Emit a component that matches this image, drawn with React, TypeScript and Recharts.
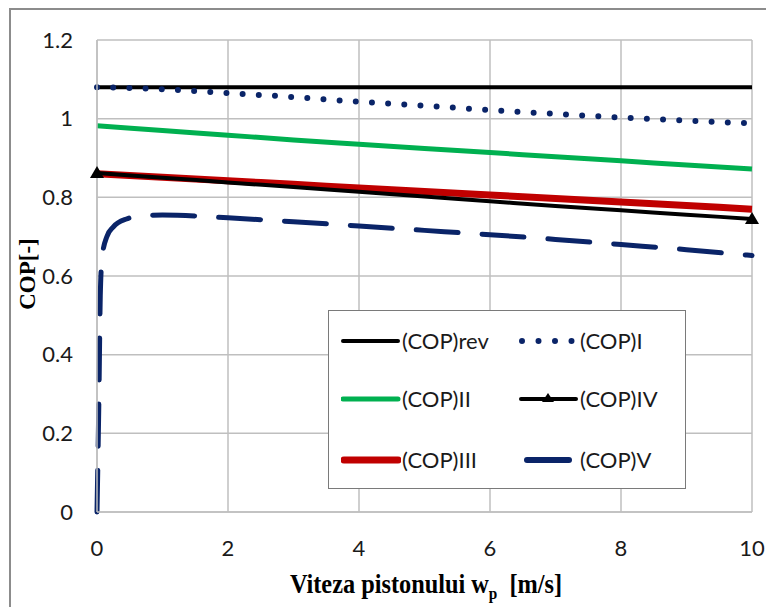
import React from 'react';
import { LineChart, Line, XAxis, YAxis, CartesianGrid } from 'recharts';

// piston speed (m/s) for the smooth series
const wp = [0, 1, 2, 3, 4, 5, 6, 7, 8, 9, 10];
const copRev = [1.08, 1.08, 1.08, 1.08, 1.08, 1.08, 1.08, 1.08, 1.08, 1.08, 1.08];
const copI = [1.08, 1.075, 1.065, 1.055, 1.043, 1.033, 1.022, 1.012, 1.003, 0.995, 0.988];
const copII = [0.982, 0.97, 0.958, 0.946, 0.935, 0.924, 0.914, 0.903, 0.893, 0.882, 0.872];
const copIII = [0.86, 0.851, 0.842, 0.833, 0.824, 0.815, 0.806, 0.797, 0.788, 0.779, 0.77];
const copIV = [0.862, 0.85, 0.838, 0.826, 0.814, 0.802, 0.79, 0.778, 0.767, 0.756, 0.745];

// (COP)V rises steeply near zero speed
const wpV = [0, 0.03, 0.05, 0.08, 0.15, 0.25, 0.45, 0.7, 1, 2, 3, 4, 5, 6, 7, 8, 9, 10];
const copV = [0, 0.3, 0.55, 0.65, 0.7, 0.725, 0.745, 0.753, 0.755, 0.748, 0.738, 0.727, 0.716, 0.705, 0.693, 0.68, 0.667, 0.652];

const xTicks = [0, 2, 4, 6, 8, 10];
const yTicks = [0, 0.2, 0.4, 0.6, 0.8, 1, 1.2];

const NAVY = '#0a2468';
const GREEN = '#00b050';
const RED = '#c00000';
const GRID = '#bfbfbf';

const toPoints = (xs: number[], ys: number[]) => xs.map((x, i) => ({ x, y: ys[i] }));

const tickStyle = { fontFamily: 'Lato, sans-serif', fontSize: 22, fill: '#1a1a1a' };

const triangleDot = (last: number) => (props: any) => {
  const { cx, cy, index } = props;
  if (index !== 0 && index !== last) return <g key={`t${index}`} />;
  return (
    <polygon
      key={`t${index}`}
      points={`${cx},${cy - 7} ${cx - 7},${cy + 5} ${cx + 7},${cy + 5}`}
      fill="#000"
    />
  );
};

const Swatch = ({ kind }: { kind: string }) => (
  <svg width={60} height={14} style={{ display: 'block' }}>
    {kind === 'rev' && <line x1={2} y1={7} x2={57} y2={7} stroke="#000" strokeWidth={4} strokeLinecap="round" />}
    {kind === 'I' && (
      <line x1={3} y1={7} x2={57} y2={7} stroke={NAVY} strokeWidth={6} strokeLinecap="round" strokeDasharray="0 16.5" />
    )}
    {kind === 'II' && <line x1={2} y1={7} x2={57} y2={7} stroke={GREEN} strokeWidth={5} strokeLinecap="round" />}
    {kind === 'III' && <line x1={3} y1={7} x2={57} y2={7} stroke={RED} strokeWidth={7} strokeLinecap="round" />}
    {kind === 'IV' && (
      <g>
        <line x1={2} y1={7} x2={57} y2={7} stroke="#000" strokeWidth={4} strokeLinecap="round" />
        <polygon points="29,1 23,10 35,10" fill="#000" />
      </g>
    )}
    {kind === 'V' && <line x1={8} y1={7} x2={50} y2={7} stroke={NAVY} strokeWidth={6} strokeLinecap="round" />}
  </svg>
);

const legendRows = [
  ['rev', 'I'],
  ['II', 'IV'],
  ['III', 'V'],
];
const rowCenters = [30, 88, 149];

export default function App() {
  return (
    <div style={{ position: 'relative', width: 766, height: 599, overflow: 'hidden', background: '#fff' }}>
      <div
        style={{
          position: 'absolute',
          left: 1,
          top: 0,
          width: 900,
          height: 900,
          border: '2px solid #8c8c8c',
          boxSizing: 'border-box',
        }}
      />
      <LineChart width={766} height={599} margin={{ top: 32, right: 22, bottom: 65, left: 29 }}>
        <CartesianGrid stroke={GRID} strokeWidth={1.5} />
        <XAxis
          type="number"
          dataKey="x"
          domain={[0, 10]}
          ticks={xTicks}
          allowDuplicatedCategory={false}
          stroke={GRID}
          strokeWidth={1.5}
          tickLine={false}
          tickSize={0}
          tickMargin={28}
          height={30}
          tick={tickStyle}
        />
        <YAxis
          type="number"
          domain={[0, 1.2]}
          ticks={yTicks}
          stroke={GRID}
          strokeWidth={1.5}
          tickLine={false}
          tickSize={0}
          tickMargin={24}
          width={60}
          tick={tickStyle}
        />
        <Line data={toPoints(wp, copRev)} dataKey="y" type="linear" stroke="#000" strokeWidth={4} dot={false} isAnimationActive={false} />
        <Line
          data={toPoints(wp, copI)}
          dataKey="y"
          type="monotone"
          stroke={NAVY}
          strokeWidth={6}
          strokeLinecap="round"
          strokeDasharray="0 16.2"
          dot={false}
          isAnimationActive={false}
        />
        <Line data={toPoints(wp, copII)} dataKey="y" type="monotone" stroke={GREEN} strokeWidth={5} dot={false} isAnimationActive={false} />
        <Line data={toPoints(wp, copIII)} dataKey="y" type="monotone" stroke={RED} strokeWidth={7} dot={false} isAnimationActive={false} />
        <Line
          data={toPoints(wp, copIV)}
          dataKey="y"
          type="monotone"
          stroke="#000"
          strokeWidth={4}
          dot={triangleDot(copIV.length - 1)}
          isAnimationActive={false}
        />
        <Line
          data={toPoints(wpV, copV)}
          dataKey="y"
          type="monotone"
          stroke={NAVY}
          strokeWidth={5}
          strokeLinecap="round"
          strokeDasharray="42 24"
          dot={false}
          isAnimationActive={false}
        />
      </LineChart>

      {/* legend box */}
      <div
        style={{
          position: 'absolute',
          left: 320,
          top: 302,
          width: 358,
          height: 179,
          border: '1.5px solid #7a7a7a',
          background: '#fff',
          boxSizing: 'border-box',
          fontFamily: 'Lato, sans-serif',
          fontSize: 22,
          color: '#1a1a1a',
        }}
      >
        {legendRows.map((row, r) => (
          <div key={r} style={{ position: 'absolute', top: rowCenters[r] - 7, left: 0, width: '100%', height: 14 }}>
            {row.map((k, c) => (
              <div key={k} style={{ position: 'absolute', left: c === 0 ? 12 : 190, top: 0, display: 'flex', alignItems: 'center', height: 14 }}>
                <Swatch kind={k} />
                <span style={{ marginLeft: 1, whiteSpace: 'nowrap', lineHeight: '14px' }}>(COP){k}</span>
              </div>
            ))}
          </div>
        ))}
      </div>

      {/* axis titles */}
      <div
        style={{
          position: 'absolute',
          left: 0,
          width: 836,
          top: 561,
          textAlign: 'center',
          fontFamily: '"Liberation Serif", serif',
          fontWeight: 'bold',
          fontSize: 27,
          color: '#000',
          whiteSpace: 'nowrap',
          transform: 'scaleX(0.9)',
          transformOrigin: '418px 0',
        }}
      >
        Viteza pistonului w<sub style={{ fontSize: 17 }}>p</sub>&nbsp; [m/s]
      </div>
      <div
        style={{
          position: 'absolute',
          left: 20 - 50,
          top: 266 - 15,
          width: 100,
          height: 30,
          lineHeight: '30px',
          textAlign: 'center',
          transform: 'rotate(-90deg)',
          fontFamily: '"Liberation Serif", serif',
          fontWeight: 'bold',
          fontSize: 23,
          color: '#000',
        }}
      >
        COP[-]
      </div>
    </div>
  );
}
